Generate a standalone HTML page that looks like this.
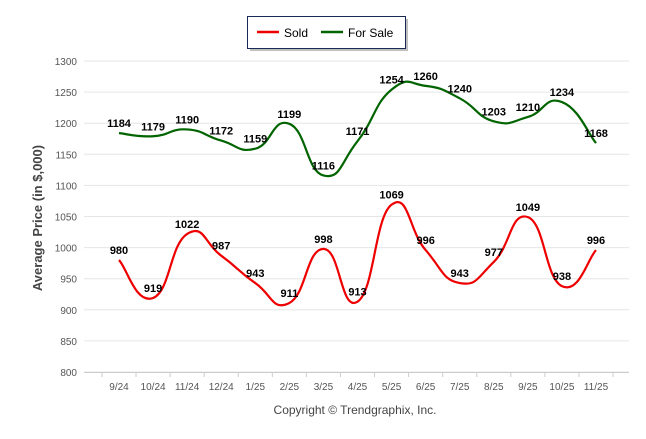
<!DOCTYPE html>
<html><head><meta charset="utf-8"><style>
body{margin:0;background:#fff;width:646px;height:434px;overflow:hidden;font-family:"Liberation Sans",sans-serif}
</style></head><body>
<svg id="chart" width="646" height="434" xmlns="http://www.w3.org/2000/svg">
<g>
<rect x="248" y="17" width="158" height="32" fill="#000" opacity="0.25" transform="translate(2,2)"/>
<rect x="247.5" y="16.5" width="158" height="32" fill="#fff" stroke="#1a2a55" stroke-width="1"/>
<g><line x1="257" y1="32" x2="279" y2="32" stroke="#e00" stroke-width="2.5"/><text x="284" y="37" font-size="12" fill="#000">Sold</text></g>
<g><line x1="321" y1="32" x2="343" y2="32" stroke="#006400" stroke-width="2.5"/><text x="348" y="37" font-size="12" fill="#000">For Sale</text></g>
</g>
<text transform="translate(42,218) rotate(-90)" text-anchor="middle" font-size="13" font-weight="bold" fill="#444">Average Price (in $,000)</text>
<text x="355" y="414" text-anchor="middle" font-size="12" fill="#444">Copyright © Trendgraphix, Inc.</text>
<g id="grid"></g><g id="series"></g><g id="labels"></g>
</svg>
<script>
const categories=["9/24","10/24","11/24","12/24","1/25","2/25","3/25","4/25","5/25","6/25","7/25","8/25","9/25","10/25","11/25"];
const soldValues=[980,919,1022,987,943,911,998,913,1069,996,943,977,1049,938,996];
const forSaleValues=[1184,1179,1190,1172,1159,1199,1116,1171,1254,1260,1240,1203,1210,1234,1168];
const yTicks=[800,850,900,950,1000,1050,1100,1150,1200,1250,1300];
const NS="http://www.w3.org/2000/svg";
const x0=119,dx=(596-119)/14,left=84,right=629;
function xs(i){return x0+i*dx;}
function ys(v){return 372-(v-800)*(372-61)/500;}
function mk(t,a,p){const e=document.createElementNS(NS,t);for(const k in a)e.setAttribute(k,a[k]);p.appendChild(e);return e;}
const grid=document.getElementById('grid');
yTicks.forEach(v=>{
 const l=mk('line',{x1:left,x2:right,y1:ys(v),y2:ys(v),stroke:'#e6e6e6','stroke-width':1},grid);
 
 
 const t=mk('text',{x:77,y:ys(v)+4,'text-anchor':'end','font-size':10,fill:'#555'},grid);
 t.textContent=v;
 
 
});
const ax=mk('line',{x1:left,x2:right,y1:372.5,y2:372.5,stroke:'#ccc'},grid);


categories.forEach((c,i)=>{
 const t=mk('text',{x:xs(i),y:390,'text-anchor':'middle','font-size':10,fill:'#555'},grid);
 t.textContent=c;
 
 
});
for(let i=0;i<=15;i++){const tk=mk('line',{x1:x0-dx/2+i*dx,x2:x0-dx/2+i*dx,y1:372,y2:377,stroke:'#ccc'},grid);}
function path(vals){
 const p=vals.map((v,i)=>[xs(i),ys(v)]);
 let d='M'+p[0][0]+','+p[0][1];
 for(let i=0;i<p.length-1;i++){
  const a=p[i-1]||p[i],b=p[i],c=p[i+1],e=p[i+2]||c,k=0.25;
  d+=` C${b[0]+(c[0]-a[0])*k},${b[1]+(c[1]-a[1])*k} ${c[0]-(e[0]-b[0])*k},${c[1]-(e[1]-b[1])*k} ${c[0]},${c[1]}`;
 }
 return d;
}
const S=document.getElementById('series'),L=document.getElementById('labels');
[[forSaleValues,'#006400','for-sale'],[soldValues,'#e00','sold']].forEach(([vals,col,nm])=>{
 const pl=mk('path',{d:path(vals),fill:'none',stroke:col,'stroke-width':2.2},S);
 
 
 vals.forEach((v,i)=>{
  const t=mk('text',{x:xs(i),y:ys(v)-6,'text-anchor':'middle','font-size':11,'font-weight':'bold',fill:'#000'},L);
  t.textContent=v;
  
  
 });
});
</script>
</body></html>
